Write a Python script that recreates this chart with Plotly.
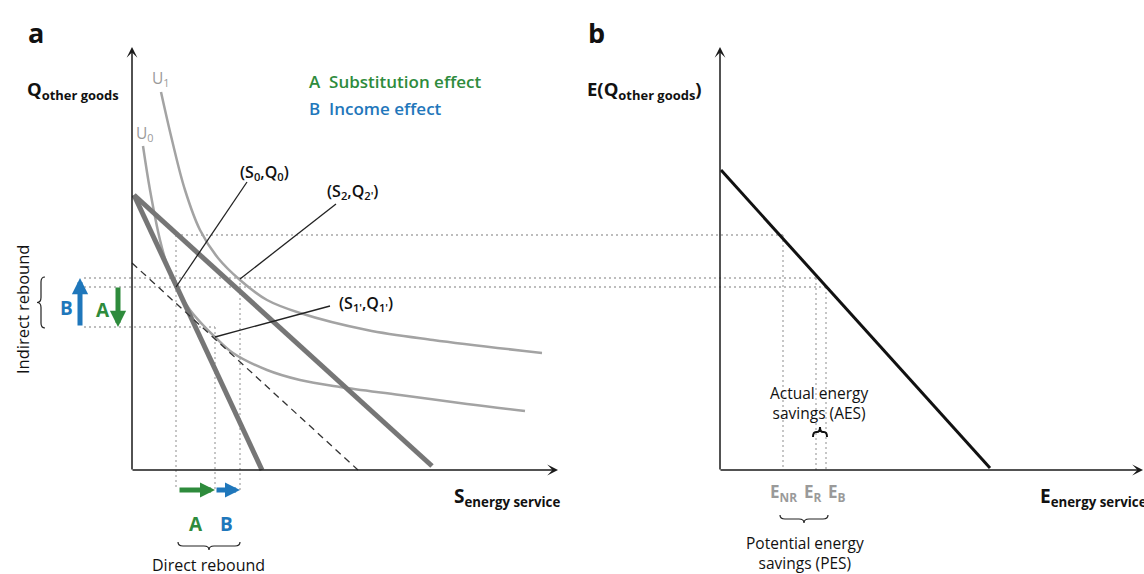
import plotly.graph_objects as go

# ---------------- Panel a: S (energy service) vs Q (other goods) ----------------
budget_initial_S = [2, 130]
budget_initial_Q = [275, 0]
budget_efficient_S = [2, 300]
budget_efficient_Q = [275, 4]
compensated_S = [0, 226]
compensated_Q = [207, 0]

U0_S = [11, 18, 28, 36, 44, 58, 71, 83, 101, 135, 168, 208, 268, 335, 393]
U0_Q = [324, 280, 230, 202, 183, 160, 145, 133, 117, 100, 90, 83, 75, 66, 59]
U1_S = [29, 40, 53, 68, 86, 108, 135, 168, 235, 301, 410]
U1_Q = [378, 330, 280, 240, 212, 190, 170, 157, 140, 130, 117]

S0, Q0 = 44, 183          # (S0, Q0)
S1p, Q1p = 83, 143        # (S1', Q1')
S2, Q2p = 108, 192        # (S2, Q2')
Q_NR = 235                # efficient budget at S0
Q1p_point = 133

# ---------------- Panel b: E (energy service) vs E(Q other goods) ----------------
energy_E = [1, 270]
energy_EQ = [300, 2]
E_NR, E_R, E_B = 63, 96, 106
B_ORIGIN = 588            # panel b origin, in panel-a units (layout offset)

AXIS_LEN = 423
GREEN = "#2e8b3c"
BLUE = "#1f77bb"
GRAY_TXT = "#9a9a9a"
FONT = "Open Sans"


def b(e):
    return B_ORIGIN + e


fig = go.Figure()


def line(xs, ys, color, width, dash="solid", shape="linear"):
    fig.add_trace(go.Scatter(x=xs, y=ys, mode="lines", hoverinfo="skip",
                             line=dict(color=color, width=width, dash=dash, shape=shape, smoothing=1.0)))


DOT = "2px,3px"
DOTC = "#a8a8a8"
# dotted guide lines
line([S0, b(E_NR)], [Q_NR, Q_NR], DOTC, 1.3, DOT)
line([-48, b(E_R)], [Q2p, Q2p], DOTC, 1.3, DOT)
line([-48, b(E_B)], [Q0, Q0], DOTC, 1.3, DOT)
line([-48, S1p], [Q1p, Q1p], DOTC, 1.3, DOT)
line([S0, S0], [Q_NR, -20], DOTC, 1.3, DOT)
line([S1p, S1p], [Q1p, -20], DOTC, 1.3, DOT)
line([S2, S2], [Q2p, -20], DOTC, 1.3, DOT)
line([b(E_NR), b(E_NR)], [Q_NR, 0], DOTC, 1.3, DOT)
line([b(E_R), b(E_R)], [Q2p, 0], DOTC, 1.3, DOT)
line([b(E_B), b(E_B)], [Q0, 0], DOTC, 1.3, DOT)

# indifference curves
line(U0_S, U0_Q, "#a3a3a3", 2.5, shape="spline")
line(U1_S, U1_Q, "#a3a3a3", 2.5, shape="spline")
# budget lines
line(budget_initial_S, budget_initial_Q, "#767676", 5)
line(budget_efficient_S, budget_efficient_Q, "#767676", 5)
line(compensated_S, compensated_Q, "#333333", 1.3, "7px,5px")
# panel b line
line([b(e) for e in energy_E], energy_EQ, "#111111", 3)

# leader lines
line([115, S0], [288, Q0], "#222222", 1.3)
line([204, S2], [266, Q2p - 1], "#222222", 1.3)
line([198, S1p], [164, Q1p_point], "#222222", 1.3)

ann = []


def arrow(x, y, ax, ay, color, width, head, size):
    ann.append(dict(x=x, y=y, ax=ax, ay=ay, xref="x", yref="y", axref="x", ayref="y",
                    showarrow=True, arrowhead=head, arrowsize=size, arrowwidth=width,
                    arrowcolor=color, text=""))


# axes
arrow(0, AXIS_LEN, 0, -1, "#1a1a1a", 1.5, 3, 1.2)
arrow(426, 0, -1, 0, "#1a1a1a", 1.5, 3, 1.2)
arrow(b(0), AXIS_LEN, b(0), -1, "#1a1a1a", 1.5, 3, 1.2)
arrow(b(423), 0, b(-1), 0, "#1a1a1a", 1.5, 3, 1.2)

# coloured effect arrows
arrow(-52, Q2p, -52, Q1p, BLUE, 5, 2, 0.65)
arrow(-14, Q1p, -14, Q0 + 1, GREEN, 5, 2, 0.65)
arrow(S1p, -20, S0 + 2, -20, GREEN, 5, 2, 0.6)
arrow(S2, -20, S1p, -20, BLUE, 5, 2, 0.6)


def text(x, y, t, size=15, color="#111111", weight=400, xanchor="center", angle=0):
    ann.append(dict(x=x, y=y, xref="x", yref="y", text=t, showarrow=False,
                    xanchor=xanchor, yanchor="middle", textangle=angle,
                    font=dict(family=FONT, size=size, color=color, weight=weight)))


text(-96, 438, "a", 27, "#111", 700)
text(b(-124), 438, "b", 27, "#111", 700)
text(-107, 380, "Q<sub>other goods</sub>", 18.5, "#111", 700, "left")
text(b(-135), 380, "E(Q<sub>other goods</sub>)", 18.5, "#111", 700, "left")
text(29, 392, "U<sub>1</sub>", 15.5, "#9a9a9a")
text(13, 337, "U<sub>0</sub>", 15.5, "#9a9a9a")
text(175, 389, "A  Substitution effect", 17, GREEN, 600, "left")
text(175, 362, "B  Income effect", 17, BLUE, 600, "left")
text(132, 298, "(S<sub>0</sub>,Q<sub>0</sub>)", 16, "#111", 600)
text(220, 279, "(S<sub>2</sub>,Q<sub>2'</sub>)", 16, "#111", 600)
text(234, 167, "(S<sub>1'</sub>,Q<sub>1'</sub>)", 16, "#111", 600)
text(320, -27, "S<sub>energy service</sub>", 19, "#111", 700, "left")
text(b(318), -27, "E<sub>energy service</sub>", 19, "#111", 700, "left")
text(-66, 162, "B", 19, BLUE, 700)
text(-29, 160, "A", 19, GREEN, 700)
text(64, -54, "A", 19, GREEN, 700)
text(94, -54, "B", 19, BLUE, 700)
text(76, -95, "Direct rebound", 16)
text(-110, 160, "Indirect rebound", 16.5, angle=-90)
text(b(E_NR), -22, "E<sub>NR</sub>", 17, GRAY_TXT, 700)
text(b(E_R) - 3, -22, "E<sub>R</sub>", 17, GRAY_TXT, 700)
text(b(E_B) + 11, -22, "E<sub>B</sub>", 17, GRAY_TXT, 700)
text(b(99), 67, "Actual energy<br>savings (AES)", 15.5)
text(b(85), -83, "Potential energy<br>savings (PES)", 15.5)


def hbrace(x1, x2, y, d, q=5):
    xm = (x1 + x2) / 2
    h = y + d / 2
    return (f"M{x1},{y} Q{x1},{h} {x1 + q},{h} L{xm - q},{h} Q{xm},{h} {xm},{y + d} "
            f"Q{xm},{h} {xm + q},{h} L{x2 - q},{h} Q{x2},{h} {x2},{y}")


def vbrace(y1, y2, x, d, q=5):
    ym = (y1 + y2) / 2
    h = x + d / 2
    return (f"M{x},{y1} Q{h},{y1} {h},{y1 + q} L{h},{ym - q} Q{h},{ym} {x + d},{ym} "
            f"Q{h},{ym} {h},{ym + q} L{h},{y2 - q} Q{h},{y2} {x},{y2}")


shapes = [
    dict(type="path", path=hbrace(S0 + 2, S2, -72, -8), xref="x", yref="y",
         line=dict(color="#222", width=1.2)),
    dict(type="path", path=hbrace(b(60), b(E_B + 2), -45, -8), xref="x", yref="y",
         line=dict(color="#222", width=1.2)),
    dict(type="path", path=hbrace(b(E_R - 3), b(E_B + 1), 33, 10, q=3), xref="x", yref="y",
         line=dict(color="#111", width=2)),
    dict(type="path", path=vbrace(Q1p - 1, Q2p + 1, -87, -8), xref="x", yref="y",
         line=dict(color="#222", width=1.2)),
]

fig.update_layout(
    width=1144, height=574, margin=dict(l=0, r=0, t=0, b=0),
    paper_bgcolor="white", plot_bgcolor="white", showlegend=False,
    xaxis=dict(range=[-132, 1012], visible=False, fixedrange=True),
    yaxis=dict(range=[-104, 470], visible=False, fixedrange=True),
    annotations=ann, shapes=shapes,
)

fig.write_html("out.html", config={"displayModeBar": False},
               post_script="document.body.style.margin='0';document.body.style.overflow='hidden';")
